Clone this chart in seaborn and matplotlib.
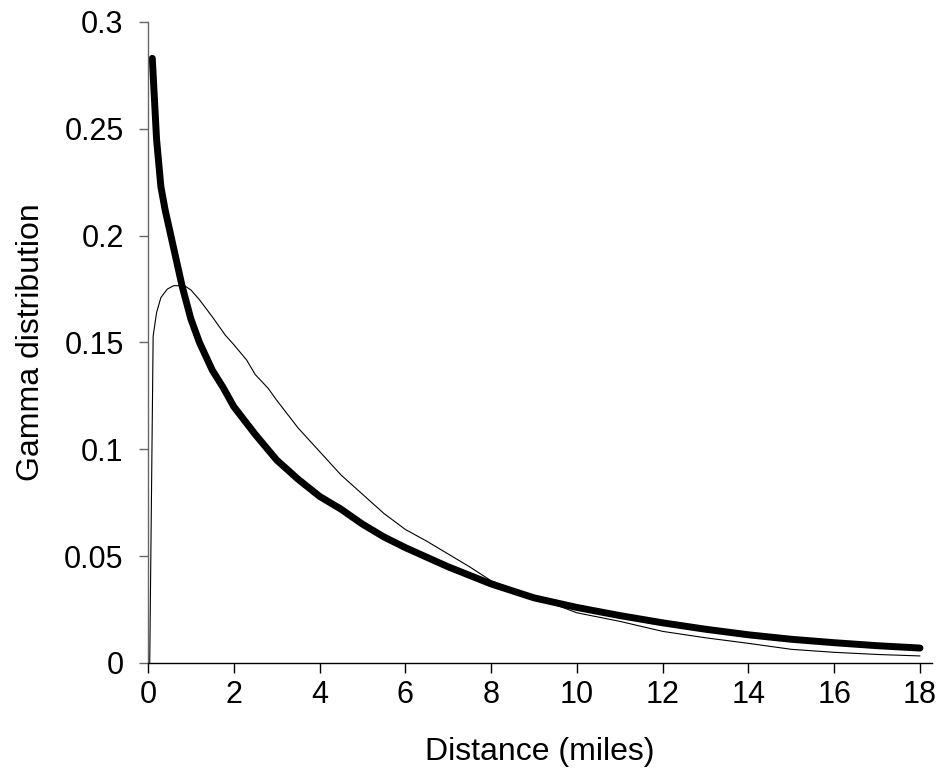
import numpy as np
import pandas as pd
import seaborn as sns
import matplotlib
matplotlib.use("Agg")
import matplotlib.pyplot as plt
from matplotlib.ticker import FuncFormatter

# Values
thick_x = [0.1, 0.2, 0.3, 0.4, 0.5, 0.6, 0.8, 1.0, 1.2, 1.5, 1.75, 2.0, 2.5, 3.0,
           3.5, 4.0, 4.5, 5.0, 5.5, 6.0, 7.0, 8.0, 9.0, 10.0, 11.0, 12.0, 13.0,
           14.0, 15.0, 16.0, 17.0, 18.0]
thick_y = [0.283, 0.245, 0.223, 0.212, 0.203, 0.194, 0.176, 0.161, 0.150, 0.137,
           0.129, 0.120, 0.107, 0.095, 0.086, 0.078, 0.072, 0.065, 0.059, 0.054,
           0.045, 0.037, 0.0305, 0.026, 0.0222, 0.0188, 0.0158, 0.0132, 0.0111,
           0.0095, 0.0081, 0.007]

thin_x = [0.04, 0.12, 0.2, 0.3, 0.45, 0.6, 0.85, 1.0, 1.2, 1.5, 1.8, 2.0, 2.3, 2.5,
          2.8, 3.0, 3.5, 4.0, 4.5, 5.0, 5.5, 6.0, 6.5, 7.0, 7.5, 8.0, 9.0, 10.0,
          11.0, 12.0, 13.0, 14.0, 15.0, 16.0, 17.0, 18.0]
thin_y = [0.0, 0.153, 0.164, 0.171, 0.175, 0.1766, 0.1766, 0.1746, 0.170, 0.162,
          0.1535, 0.149, 0.1418, 0.135, 0.1286, 0.123, 0.110, 0.099, 0.088, 0.079,
          0.070, 0.0625, 0.057, 0.051, 0.045, 0.0385, 0.031, 0.0235, 0.0195,
          0.0148, 0.0118, 0.0092, 0.0064, 0.005, 0.004, 0.0033]

x_ticks = [0, 2, 4, 6, 8, 10, 12, 14, 16, 18]
y_ticks = [0, 0.05, 0.1, 0.15, 0.2, 0.25, 0.3]

sns.set_style("white")
plt.rcParams['font.family'] = ['Liberation Sans', 'DejaVu Sans']
plt.rcParams['text.color'] = 'black'
plt.rcParams['axes.labelcolor'] = 'black'
plt.rcParams['xtick.labelcolor'] = 'black'
plt.rcParams['ytick.labelcolor'] = 'black'

fig = plt.figure(figsize=(9.45, 7.84), dpi=100)
ax = fig.add_axes([148 / 945, 1 - 663 / 784, (932 - 148) / 945, (663 - 22) / 784])

sns.lineplot(x=thin_x, y=thin_y, ax=ax, color='black', linewidth=0.8)
sns.lineplot(x=thick_x, y=thick_y, ax=ax, color='black', linewidth=5,
             solid_capstyle='round')

ax.set_xlim(0, 18 * (932 - 148) / (920 - 148))
ax.set_ylim(0, 0.3)
ax.set_xticks(x_ticks)
ax.set_yticks(y_ticks)
ax.yaxis.set_major_formatter(FuncFormatter(lambda v, p: '%g' % v))

for s in ['top', 'right']:
    ax.spines[s].set_visible(False)
ax.spines['left'].set_color('#666666')
ax.spines['bottom'].set_color('black')
ax.spines['left'].set_linewidth(1)
ax.spines['bottom'].set_linewidth(1)

ax.tick_params(axis='y', direction='out', length=6.5, width=1, color='#666666',
               labelsize=22, pad=11, left=True)
ax.tick_params(axis='x', direction='out', length=7, width=1, color='black',
               labelsize=22, pad=5, bottom=True)

ax.set_xlabel("Distance (miles)", fontsize=23)
ax.set_ylabel("Gamma distribution", fontsize=23)
ax.xaxis.set_label_coords(0.5, -0.115)
ax.yaxis.set_label_coords(-0.13, 0.5)

plt.savefig('out.png', dpi=100)
plt.close()
